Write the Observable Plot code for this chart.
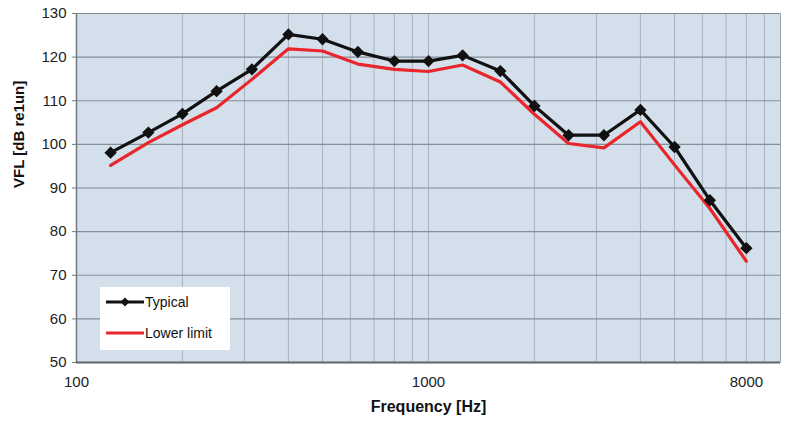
<!DOCTYPE html>
<html>
<head>
<meta charset="utf-8">
<script src="https://cdn.jsdelivr.net/npm/d3@7"></script>
<script src="https://cdn.jsdelivr.net/npm/@observablehq/plot@0.6"></script>
<style>
  html, body { margin: 0; padding: 0; background: #fff; }
  #wrap { position: relative; width: 792px; height: 424px; font-family: "Liberation Sans", Arial, sans-serif; }
  #legend { position: absolute; left: 100px; top: 287px; width: 130px; height: 63px; background: #fff; font-size: 14px; color: #111; }
  #legend .item { position: absolute; left: 6px; display: flex; align-items: center; }
  #legend svg { margin-right: 1px; }
</style>
</head>
<body>
<div id="wrap"></div>
<script>
const freqs = [125, 160, 200, 250, 315, 400, 500, 630, 800, 1000, 1250, 1600, 2000, 2500, 3150, 4000, 5000, 6300, 8000];
const typical = [98.1, 102.7, 107.0, 112.2, 117.2, 125.2, 124.1, 121.2, 119.1, 119.1, 120.4, 116.8, 108.8, 102.1, 102.1, 107.9, 99.4, 87.2, 76.2];
const lowerLimit = [95.2, 100.4, 104.5, 108.4, 114.9, 121.9, 121.4, 118.4, 117.2, 116.7, 118.2, 114.3, 106.9, 100.2, 99.2, 105.2, 95.3, 85.3, 73.2];
const xTicks = [100, 1000, 8000];
const xGrid = [100, 200, 300, 400, 500, 600, 700, 800, 900, 1000, 2000, 3000, 4000, 5000, 6000, 7000, 8000, 9000, 10000];
const yTicks = [50, 60, 70, 80, 90, 100, 110, 120, 130];
const seriesNames = ["Typical", "Lower limit"];

const rowsTyp = freqs.map((f, i) => ({f, v: typical[i]}));
const rowsLow = freqs.map((f, i) => ({f, v: lowerLimit[i]}));

const chart = Plot.plot({
  width: 792,
  height: 424,
  marginLeft: 76,
  marginRight: 12,
  marginTop: 13,
  marginBottom: 62,
  style: {fontFamily: "Liberation Sans, Arial, sans-serif", fontSize: "15px", color: "#222", background: "#fff"},
  x: {type: "log", domain: [100, 10000], axis: null},
  y: {domain: [50, 130]},
  marks: [
    Plot.frame({fill: "#d3dfeb", stroke: "#b8c0c8"}),
    Plot.gridX({ticks: xGrid, stroke: "#8a949e", strokeOpacity: 0.6, strokeWidth: 1}),
    Plot.gridY({ticks: yTicks, stroke: "#7d8690", strokeOpacity: 0.9, strokeWidth: 1.2}),
    Plot.ruleX([100], {stroke: "#6f7780", strokeWidth: 1.5}),
    Plot.ruleY([50], {stroke: "#5f666d", strokeWidth: 2}),
    Plot.axisY({ticks: yTicks, tickSize: 4, tickPadding: 6, tickFormat: d => String(d), label: null, stroke: "#777"}),
    Plot.text(xTicks, {x: d => d, text: d => String(d), frameAnchor: "bottom", dy: 24, fontSize: 15, fill: "#222"}),
    Plot.text(["VFL [dB re1un]"], {frameAnchor: "left", dx: -57, rotate: -90, fontWeight: "bold", fontSize: 15, fill: "#111"}),
    Plot.text(["Frequency [Hz]"], {frameAnchor: "bottom", dy: 49, fontWeight: "bold", fontSize: 16, fill: "#111"}),
    Plot.line(rowsLow, {x: "f", y: "v", stroke: "#e8262b", strokeWidth: 3.2}),
    Plot.line(rowsTyp, {x: "f", y: "v", stroke: "#111", strokeWidth: 3.2}),
    Plot.dot(rowsTyp, {x: "f", y: "v", symbol: "diamond2", r: 4.6, fill: "#111", stroke: "#111"})
  ]
});
const wrap = document.getElementById("wrap");
wrap.appendChild(chart);

const legend = document.createElement("div");
legend.id = "legend";
legend.innerHTML = `
  <div class="item" style="top:7px"><svg width="38" height="16"><line x1="0" y1="8" x2="38" y2="8" stroke="#111" stroke-width="3"/><path d="M19,3.5 L23.5,8 L19,12.5 L14.5,8 Z" fill="#111"/></svg><span>${seriesNames[0]}</span></div>
  <div class="item" style="top:38px"><svg width="38" height="16"><line x1="0" y1="8" x2="38" y2="8" stroke="#e8262b" stroke-width="3"/></svg><span>${seriesNames[1]}</span></div>`;
wrap.appendChild(legend);
</script>
</body>
</html>
